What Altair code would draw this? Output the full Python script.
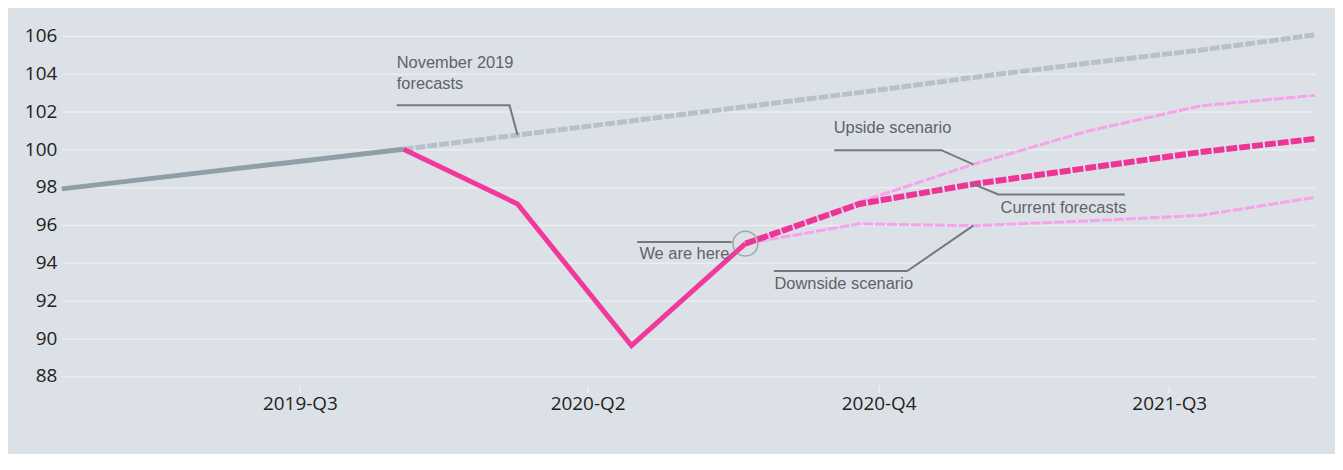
import altair as alt
import pandas as pd

# ---------------- data ----------------
quarters = ["2019-Q1", "2019-Q2", "2019-Q3", "2019-Q4", "2020-Q1", "2020-Q2",
            "2020-Q3", "2020-Q4", "2021-Q1", "2021-Q2", "2021-Q3", "2021-Q4"]

# observed before the crisis (grey)
past_q = ["2019-Q1", "2019-Q2", "2019-Q3", "2019-Q4"]
past_v = [97.9, 98.6, 99.3, 100.0]

# observed during the crisis (pink)
obs_q = ["2019-Q4", "2020-Q1", "2020-Q2", "2020-Q3"]
obs_v = [100.0, 97.1, 89.6, 95.0]

# November 2019 forecasts
nov_q = ["2019-Q4", "2020-Q1", "2020-Q2", "2020-Q3", "2020-Q4",
         "2021-Q1", "2021-Q2", "2021-Q3", "2021-Q4"]
nov_v = [100.0, 100.75, 101.5, 102.25, 103.0, 103.8, 104.55, 105.25, 106.05]

# scenarios
fc_q = ["2020-Q3", "2020-Q4", "2021-Q1", "2021-Q2", "2021-Q3", "2021-Q4"]
current_v = [95.0, 97.1, 98.15, 99.0, 99.85, 100.55]
upside_v = [95.0, 97.2, 99.2, 100.95, 102.3, 102.85]
downside_v = [95.0, 96.05, 95.95, 96.2, 96.5, 97.45]

# axis ticks
y_ticks = [88, 90, 92, 94, 96, 98, 100, 102, 104, 106]
x_tick_pos = [2.09, 4.615, 7.17, 9.72]
x_tick_labels = ["2019-Q3", "2020-Q2", "2020-Q4", "2021-Q3"]

# annotations
ann_text = ["November 2019\nforecasts", "Upside scenario", "Current forecasts",
            "Downside scenario", "We are here"]
ann_x = [2.94, 6.775, 8.24, 6.255, 5.07]
ann_y = [104.58, 101.1, 96.9, 92.85, 94.47]

lead_group = ["nov", "nov", "nov", "up", "up", "up", "cur", "cur", "cur",
              "down", "down", "down", "here", "here"]
lead_x = [2.94, 3.93, 4.0, 6.78, 7.72, 8.0, 8.0, 8.22, 9.33,
          8.0, 7.42, 6.25, 5.05, 5.88]
lead_y = [102.32, 102.32, 100.75, 99.95, 99.95, 99.2, 98.15, 97.6, 97.6,
          95.95, 93.55, 93.55, 95.09, 95.09]

here_q = ["2020-Q3"]
here_v = [95.0]

# ---------------- frames ----------------
qi = {q: i for i, q in enumerate(quarters)}


def frame(qs, vs):
    return pd.DataFrame({"q": qs, "x": [qi[q] for q in qs], "v": vs})


past_df = frame(past_q, past_v)
obs_df = frame(obs_q, obs_v)
nov_df = frame(nov_q, nov_v)
cur_df = frame(fc_q, current_v)
up_df = frame(fc_q, upside_v)
down_df = frame(fc_q, downside_v)
here_df = frame(here_q, here_v)
ann_df = pd.DataFrame({"t": ann_text, "x": ann_x, "v": ann_y})
lead_df = pd.DataFrame({"g": lead_group, "x": lead_x, "v": lead_y,
                        "i": list(range(len(lead_x)))})

label_map = "{" + ",".join(f"'{p}':'{l}'" for p, l in zip(x_tick_pos, x_tick_labels)) + "}"

x_enc = alt.X("x:Q",
              scale=alt.Scale(domain=[0, 11], nice=False, zero=False),
              axis=alt.Axis(values=x_tick_pos, labelExpr=label_map + "[''+datum.value]",
                            title=None, grid=False, domain=False, ticks=True,
                            tickColor="#eceff2", tickSize=7, tickWidth=1.5,
                            labelFont="Open Sans", labelFontSize=19,
                            labelColor="#222222", labelPadding=2))
y_enc = alt.Y("v:Q",
              scale=alt.Scale(domain=[87.5, 107], nice=False, zero=False),
              axis=alt.Axis(values=y_ticks, title=None, grid=True, domain=False,
                            ticks=False, gridColor="#eaedf1", gridWidth=1.5,
                            labelFont="Open Sans", labelFontSize=19,
                            labelColor="#222222", labelPadding=5,
                            minExtent=54, maxExtent=54))

ANN_FONT = "Liberation Sans, Arial, sans-serif"

nov_line = alt.Chart(nov_df).mark_line(
    color="#b7c1c9", strokeWidth=5, strokeDash=[10, 2]).encode(x=x_enc, y=y_enc)
past_line = alt.Chart(past_df).mark_line(
    color="#8e9fa9", strokeWidth=5).encode(x=x_enc, y=y_enc)
up_line = alt.Chart(up_df).mark_line(
    color="#f7a2ec", strokeWidth=3, strokeDash=[10, 2]).encode(x=x_enc, y=y_enc)
down_line = alt.Chart(down_df).mark_line(
    color="#f7a2ec", strokeWidth=3, strokeDash=[10, 2]).encode(x=x_enc, y=y_enc)
cur_line = alt.Chart(cur_df).mark_line(
    color="#ee3596", strokeWidth=6, strokeDash=[11, 2]).encode(x=x_enc, y=y_enc)
obs_line = alt.Chart(obs_df).mark_line(
    color="#f0399a", strokeWidth=5).encode(x=x_enc, y=y_enc)

leaders = alt.Chart(lead_df).mark_line(
    color="#75797e", strokeWidth=2).encode(
    x=x_enc, y=y_enc, detail="g:N", order="i:Q")

circle = alt.Chart(here_df).mark_point(
    shape="circle", size=625, filled=False, color="#8a8e93",
    strokeWidth=1.5).encode(x=x_enc, y=y_enc)

labels = alt.Chart(ann_df).mark_text(
    align="left", baseline="middle", font=ANN_FONT, fontSize=16.5,
    color="#5f6368", lineBreak="\n", lineHeight=21).encode(
    x=x_enc, y=y_enc, text="t:N")

chart = alt.layer(
    nov_line, past_line, up_line, down_line, cur_line, obs_line,
    leaders, circle, labels
).properties(
    width=1259, height=370,
    padding={"left": 0, "top": 8, "right": 8, "bottom": 40},
    background="#dce1e7",
).configure_view(stroke=None)

chart.save("out.html", embed_options={"renderer": "svg", "actions": False})
